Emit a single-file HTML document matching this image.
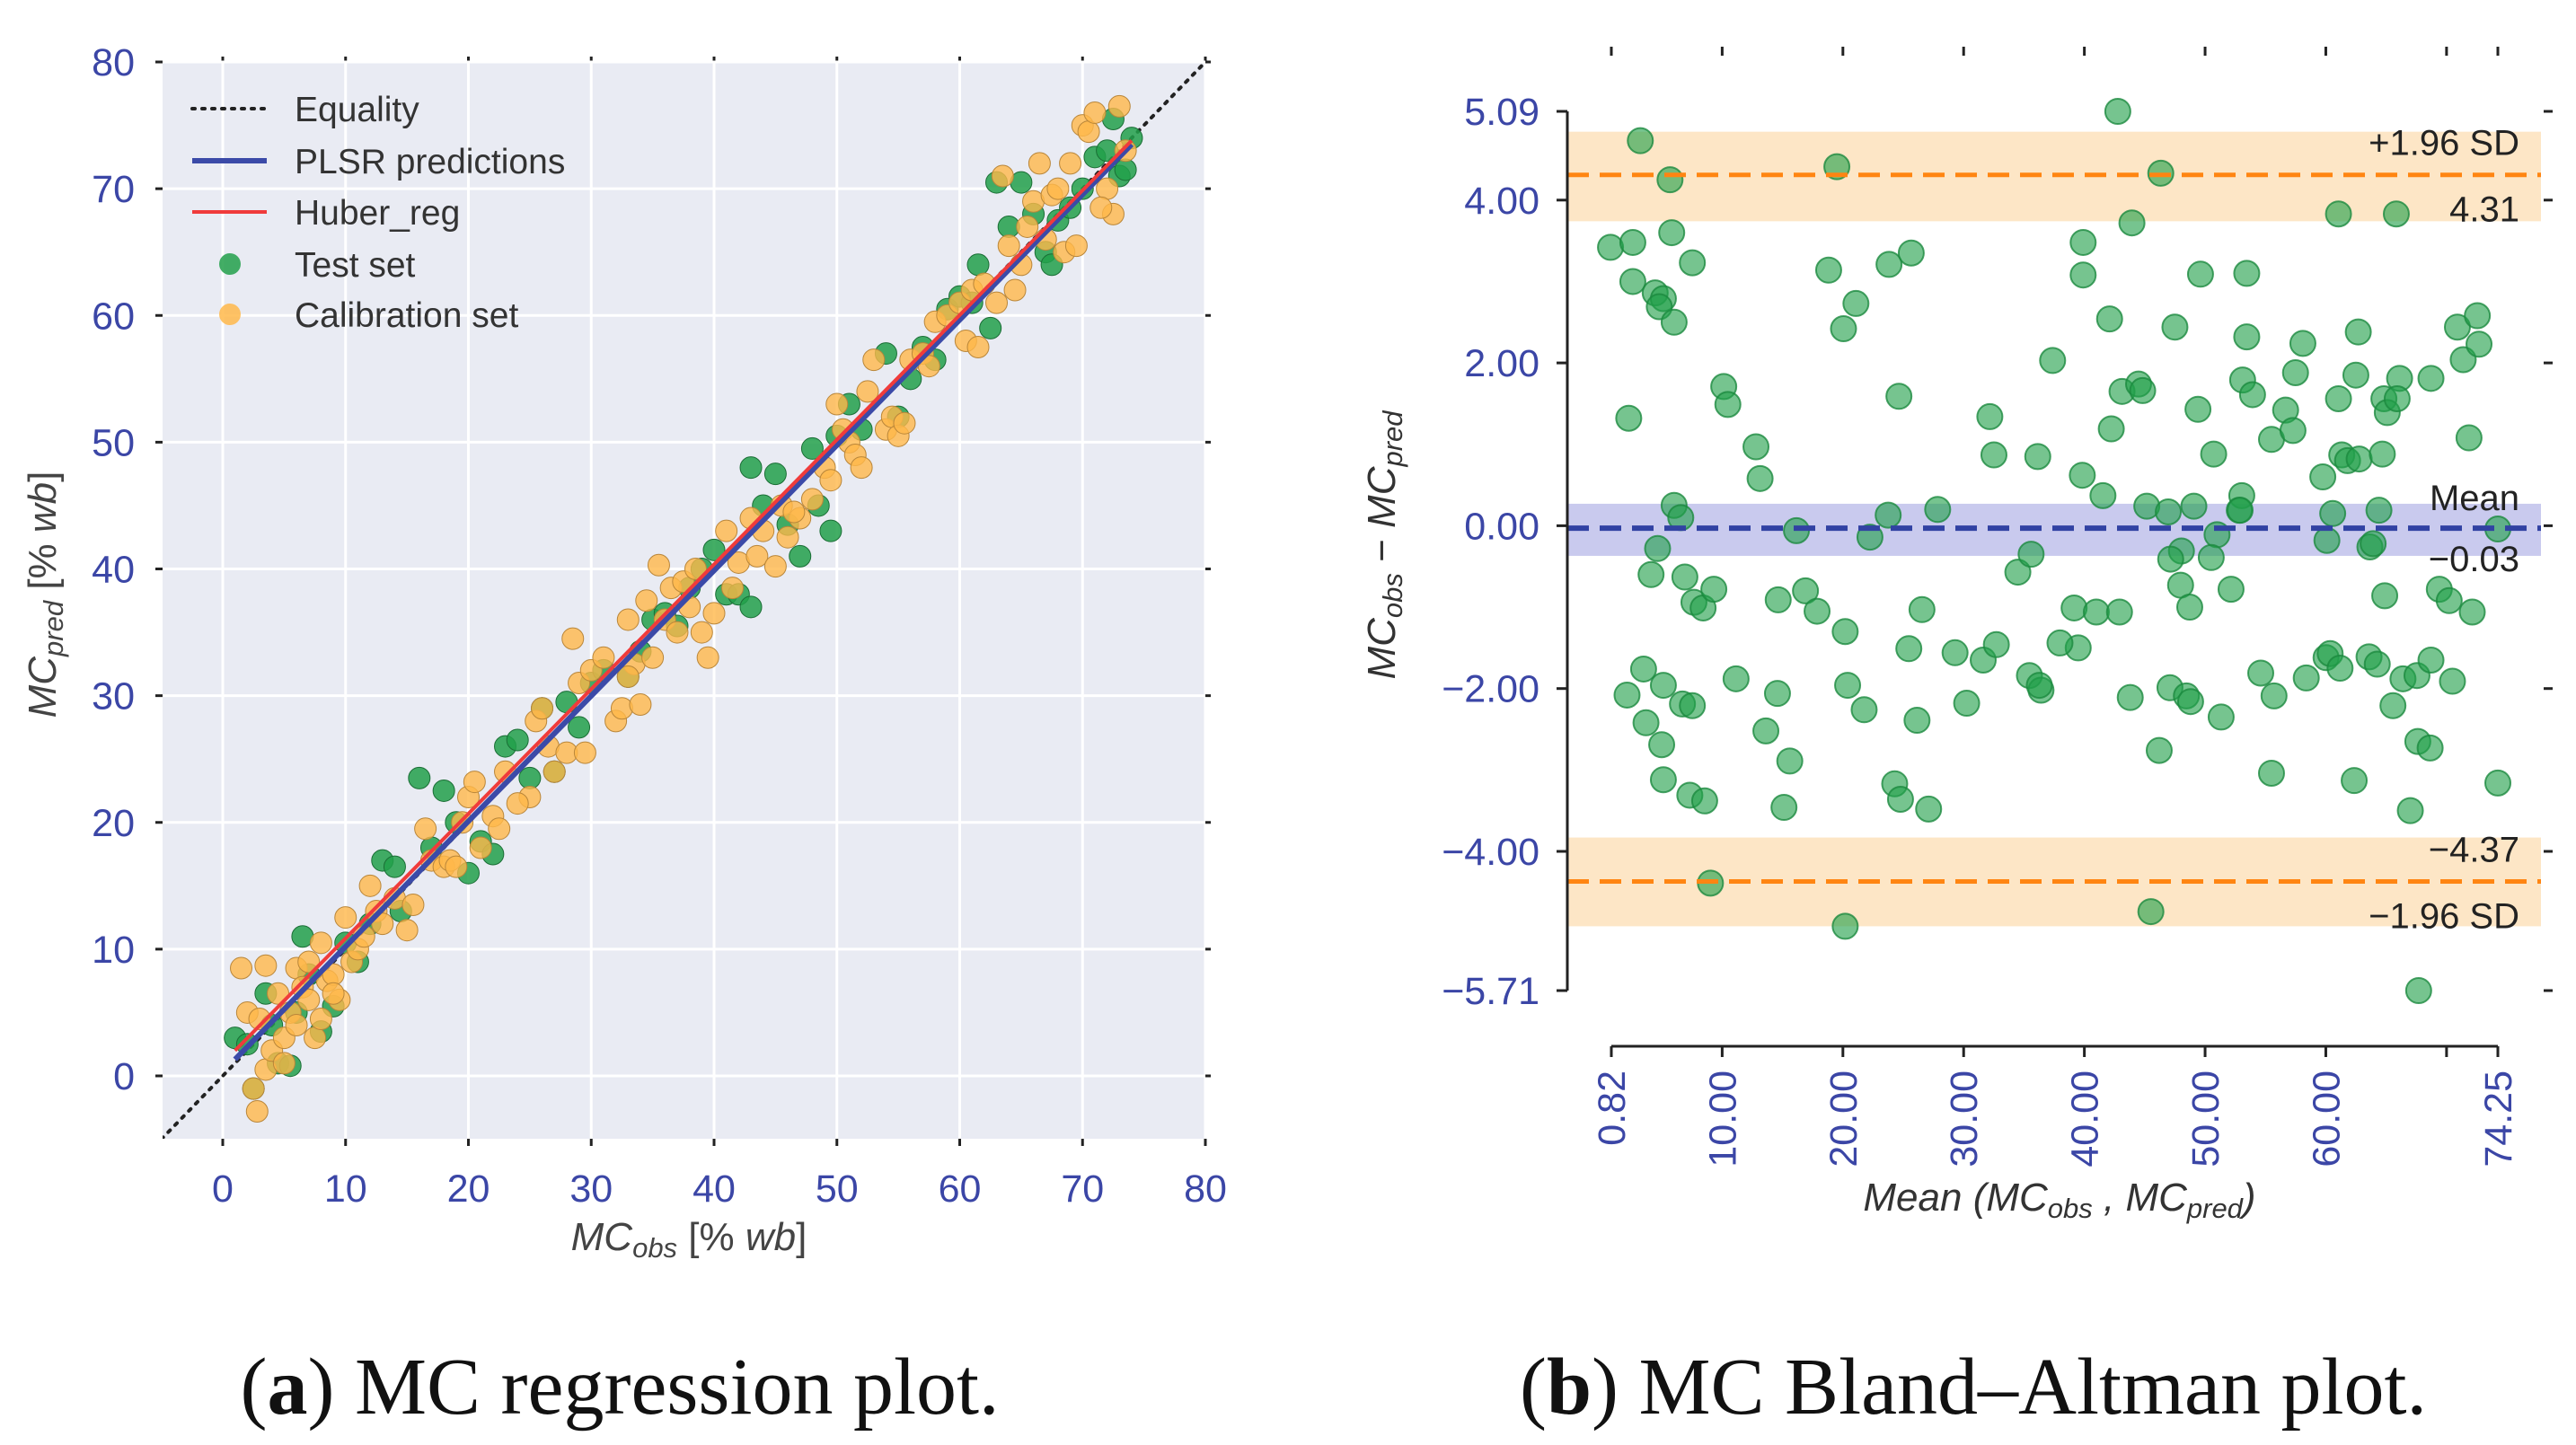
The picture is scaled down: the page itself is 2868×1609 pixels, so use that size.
<!DOCTYPE html>
<html><head><meta charset="utf-8"><style>
html,body{margin:0;padding:0;background:#fff;}
svg{display:block;}
text{font-family:"Liberation Sans",sans-serif;}
</style></head><body>
<svg id="fig" width="2868" height="1609" viewBox="0 0 2868 1609" xmlns="http://www.w3.org/2000/svg">
<g id="regPlot"></g>
<g id="baPlot"></g>
<text x="690" y="1574" text-anchor="middle" font-size="90" style="font-family:'Liberation Serif',serif" fill="#111">(<tspan font-weight="bold">a</tspan>) MC regression plot.</text>
<text x="2197" y="1574" text-anchor="middle" font-size="90" style="font-family:'Liberation Serif',serif" fill="#111">(<tspan font-weight="bold">b</tspan>) MC Bland–Altman plot.</text>
</svg>
<script>
// ---- Regression plot data ----
const regXTicks=[0,10,20,30,40,50,60,70,80];
const regYTicks=[0,10,20,30,40,50,60,70,80];
const calObs=[1.5,3.5,2,3,2.5,2.8,3.5,4,5,5.5,6,6.5,7,7,7.5,8,8.5,9,9.5,10,10.5,11,11.5,12,12.5,13,14,15,15.5,16.5,17,18,18.5,19,19.5,20,20.5,21,22,22.5,23,25,25.5,26,26.5,27,28,28.5,29,29.5,30,31,32,32.5,33,33.5,34,34.5,35,35.5,36,36.5,37,37.5,38,38.5,39,39.5,40,41,41.5,42,43,43.5,44,45,45.5,46,47,48,49,49.5,50,50.5,51,51.5,52,52.5,53,54,54.5,55,55.5,56,57,58,59,60,60.5,61,61.5,62,63,63.5,64,64.5,65,65.5,66,66.5,67,67.5,68,68.5,69,69.5,70,70.5,71,72,72.5,73,73.5,71.5,5,6,8,9,4.5,33,24,57.5,46.5];
const calPred=[8.5,8.7,5,4.5,-1,-2.8,0.5,2,3,5,8.5,7,9,6,3,10.5,7.5,8,6,12.5,9,10,11,15,13,12,14,11.5,13.5,19.5,17,16.5,17,16.5,20,22,23.2,18,20.5,19.5,24,22,28,29,26,24,25.5,34.5,31,25.5,32,33,28,29,36,32.5,29.3,37.5,33,40.3,36,38.5,35,39,37,40,35,33,36.5,43,38.5,40.5,44,41,43,40.2,45,42.5,44,45.5,48,47,53,51,50,49,48,54,56.5,51,52,50.5,51.5,56.5,57,59.5,60,61,58,62,57.5,62.5,61,71,65.5,62,64,67,69,72,66,69.5,70,65,72,65.5,75,74.5,76,70,68,76.5,73,68.5,1,4,4.5,6.5,6.5,31.5,21.5,56,44.5];
const testObs=[1,2,2.5,3.5,4,4.5,5.5,6,6.5,7,8,9,10,11,12,13,14,14.5,16,17,18,19,20,21,22,23,24,25,26,27,28,29,30,31,33,34,35,36,37,38,39,40,41,42,43,43,44,45,46,47,48,48.5,49.5,50,51,52,54,55,56,57,58,59,60,61,61.5,62.5,63,64,65,66,67,67.5,68,69,70,71,72,72.5,73,73.5,74];
const testPred=[3,2.5,-1,6.5,4,1,0.8,5,11,8,3.5,5.5,10.5,9,12,17,16.5,13,23.5,18,22.5,20,16,18.5,17.5,26,26.5,23.5,29,24,29.5,27.5,31,32,31.5,33.5,36,36.5,35.5,38.5,40,41.5,38,38,37,48,45,47.5,43.5,41,49.5,45,43,50.5,53,51,57,52,55,57.5,56.5,60.5,61.5,61,64,59,70.5,67,70.5,68,65,64,67.5,68.5,70,72.5,73,75.5,71,71.5,74];
const plsrLine=[[1,1.3],[74,73.5]];
const huberLine=[[1,2.0],[74,73.8]];
const equalityLine=[[-5,-5],[80,80]];

// ---- Bland-Altman data ----
const baMean=[3.22,5.68,19.5,42.77,46.33,43.94,61.05,65.84,0.75,2.6,2.6,5.82,4.45,5.13,4.79,6.02,7.53,2.26,18.82,20.05,21.08,23.82,25.66,24.64,10.13,10.47,12.8,13.14,39.9,39.9,42.09,37.37,32.17,32.51,36.14,39.83,41.54,42.23,43.12,44.49,44.83,47.5,49.62,53.45,53.45,49.41,50.71,53.11,53.93,53.04,52.83,55.5,56.67,57.28,57.49,58.1,59.75,61.05,61.32,61.8,62.76,62.69,62.49,64.68,64.81,65.09,66.11,65.91,68.71,70.9,72.55,71.38,72.69,71.86,6.02,6.57,4.65,4.11,6.91,7.66,8.42,9.31,16.15,14.64,16.9,17.86,20.19,22.24,23.75,27.85,26.55,25.46,29.29,31.62,32.71,34.49,35.59,39.15,40.99,42.91,39.49,37.98,45.17,46.95,49.07,50.99,50.51,48.04,47.15,47.97,48.73,52.15,52.9,60.09,60.57,63.65,63.92,64.4,64.88,69.4,70.22,72.13,74.25,3.49,2.12,5.13,6.71,7.53,3.69,4.99,5.13,7.32,8.55,11.15,13.62,14.58,15.6,15.12,20.39,21.76,26.14,24.29,24.77,27.1,30.25,35.45,36.41,36.27,43.8,47.09,48.45,48.8,51.33,46.2,54.61,55.71,55.5,58.38,60.02,60.36,61.18,62.35,63.58,64.26,65.56,66.39,67.55,68.71,70.49,67.62,68.64,67.0,74.25,9.03,20.19,45.51,67.69];
const baDiff=[4.73,4.25,4.41,5.09,4.33,3.72,3.83,3.83,3.42,3.48,3.0,3.6,2.86,2.79,2.69,2.5,3.23,1.32,3.14,2.42,2.73,3.21,3.35,1.59,1.71,1.49,0.97,0.58,3.48,3.08,2.54,2.03,1.34,0.87,0.85,0.62,0.37,1.19,1.65,1.74,1.66,2.44,3.09,3.10,2.32,1.43,0.88,1.79,1.61,0.37,0.19,1.06,1.42,1.17,1.88,2.24,0.6,1.56,0.87,0.80,0.82,2.38,1.85,0.88,1.56,1.39,1.81,1.56,1.81,2.44,2.58,2.04,2.23,1.08,0.25,0.10,-0.28,-0.6,-0.63,-0.94,-1.01,-0.78,-0.06,-0.91,-0.80,-1.05,-1.30,-0.14,0.13,0.20,-1.03,-1.51,-1.56,-1.65,-1.46,-0.57,-0.35,-1.01,-1.06,-1.06,-1.50,-1.44,0.24,0.17,0.24,-0.11,-0.39,-0.31,-0.41,-0.73,-1.0,-0.78,0.19,-0.18,0.15,-0.26,-0.22,0.19,-0.86,-0.78,-0.92,-1.06,-0.04,-1.76,-2.08,-1.96,-2.19,-2.21,-2.42,-2.69,-3.12,-3.31,-3.38,-1.88,-2.52,-2.06,-2.89,-3.46,-1.96,-2.26,-2.39,-3.17,-3.36,-3.48,-2.18,-1.84,-2.02,-1.96,-2.11,-1.99,-2.09,-2.16,-2.35,-2.76,-1.81,-2.09,-3.04,-1.87,-1.62,-1.57,-1.75,-3.13,-1.61,-1.70,-2.21,-1.88,-1.84,-1.65,-1.91,-2.65,-2.73,-3.50,-3.16,-4.39,-4.92,-4.74,-5.71];
const baXTicks=[0.82,10,20,30,40,50,60,74.25];
const baXTickLabels=["0.82","10.00","20.00","30.00","40.00","50.00","60.00","74.25"];
const baXExtraTicks=[70];
const baYTicks=[5.09,4.00,2.00,0.00,-2.00,-4.00,-5.71];
const baYTickLabels=["5.09","4.00","2.00","0.00","\u22122.00","\u22124.00","\u22125.71"];
const baMeanDiff=-0.03, baUpper=4.31, baLower=-4.37;
const baUpperBand=[3.74,4.84], baLowerBand=[-4.92,-3.83], baMeanBand=[-0.37,0.27];

const NS="http://www.w3.org/2000/svg";
function mk(parent,tag,attrs,name,txt){
  const e=document.createElementNS(NS,tag);
  for(const k in attrs)e.setAttribute(k,attrs[k]);
  
  
  if(txt!==undefined)e.textContent=txt;
  parent.appendChild(e);return e;
}
const TICK="#3b46a6";

// ===== Regression plot =====
(function(){
  const g=document.getElementById('regPlot');
  const L=181,R=1342,T=69,B=1268;
  const xs=v=>248+(v-0)*(1342-248)/80;
  const ys=v=>1198-(v-0)*(1198-69)/80;
  mk(g,'rect',{x:L,y:T,width:R-L,height:B-T,fill:'#e9ebf3'},'plot-background');
  regXTicks.forEach(v=>{
    mk(g,'line',{x1:xs(v),x2:xs(v),y1:T,y2:B,stroke:'#fff','stroke-width':3},'x-gridline');
    mk(g,'line',{x1:xs(v),x2:xs(v),y1:B,y2:B+8,stroke:'#222','stroke-width':3},'x-tick');
    mk(g,'line',{x1:xs(v),x2:xs(v),y1:T-6,y2:T,stroke:'#222','stroke-width':3},'x-tick-top');
    mk(g,'text',{x:xs(v),y:1338,'text-anchor':'middle','font-size':43,fill:TICK},'x-tick-label',String(v));
  });
  regYTicks.forEach(v=>{
    mk(g,'line',{x1:L,x2:R,y1:ys(v),y2:ys(v),stroke:'#fff','stroke-width':3},'y-gridline');
    mk(g,'line',{x1:L-8,x2:L,y1:ys(v),y2:ys(v),stroke:'#222','stroke-width':3},'y-tick');
    mk(g,'line',{x1:R,x2:R+6,y1:ys(v),y2:ys(v),stroke:'#222','stroke-width':3},'y-tick-right');
    mk(g,'text',{x:150,y:ys(v)+15,'text-anchor':'end','font-size':43,fill:TICK},'y-tick-label',String(v));
  });
  const c=document.createElementNS(NS,'clipPath');c.setAttribute('id','regclip');
  const cr=document.createElementNS(NS,'rect');cr.setAttribute('x',L);cr.setAttribute('y',T);cr.setAttribute('width',R-L);cr.setAttribute('height',B-T);
  c.appendChild(cr);g.appendChild(c);
  const pg=mk(g,'g',{'clip-path':'url(#regclip)'},'data-layer');
  mk(pg,'line',{x1:xs(equalityLine[0][0]),y1:ys(equalityLine[0][1]),x2:xs(equalityLine[1][0]),y2:ys(equalityLine[1][1]),stroke:'#222','stroke-width':4,'stroke-dasharray':'3 8','stroke-linecap':'round'},'equality-line');
  testObs.forEach((v,i)=>{
    mk(pg,'circle',{cx:xs(v),cy:ys(testPred[i]),r:12,fill:'#22a04a','fill-opacity':0.85,stroke:'#1a6e35','stroke-width':1},'test-point');
  });
  calObs.forEach((v,i)=>{
    mk(pg,'circle',{cx:xs(v),cy:ys(calPred[i]),r:12,fill:'#ffb84a','fill-opacity':0.8,stroke:'#b9863a','stroke-width':1},'calibration-point');
  });
  mk(pg,'line',{x1:xs(plsrLine[0][0]),y1:ys(plsrLine[0][1]),x2:xs(plsrLine[1][0]),y2:ys(plsrLine[1][1]),stroke:'#3b4aa8','stroke-width':6},'plsr-line');
  mk(pg,'line',{x1:xs(huberLine[0][0]),y1:ys(huberLine[0][1]),x2:xs(huberLine[1][0]),y2:ys(huberLine[1][1]),stroke:'#f03b3b','stroke-width':4},'huber-line');
  const lg=mk(g,'g',{},'legend');
  const rows=[121,179,236,294,350];
  const labels=['Equality','PLSR predictions','Huber_reg','Test set','Calibration set'];
  mk(lg,'line',{x1:214,x2:297,y1:rows[0],y2:rows[0],stroke:'#222','stroke-width':4,'stroke-dasharray':'3 8','stroke-linecap':'round'},'legend-equality-swatch');
  mk(lg,'line',{x1:214,x2:297,y1:rows[1],y2:rows[1],stroke:'#3b4aa8','stroke-width':6},'legend-plsr-swatch');
  mk(lg,'line',{x1:214,x2:297,y1:rows[2],y2:rows[2],stroke:'#f03b3b','stroke-width':4},'legend-huber-swatch');
  mk(lg,'circle',{cx:256,cy:rows[3],r:12,fill:'#22a04a','fill-opacity':0.85},'legend-test-swatch');
  mk(lg,'circle',{cx:256,cy:rows[4],r:12,fill:'#ffb84a','fill-opacity':0.85},'legend-calibration-swatch');
  labels.forEach((t,i)=>mk(lg,'text',{x:328,y:rows[i]+14,'font-size':39,fill:'#333'},'legend-entry',t));
  const xt=mk(g,'text',{x:767,y:1392,'text-anchor':'middle','font-size':44,fill:'#444'},'x-axis-title');
  xt.innerHTML='<tspan font-style="italic">MC</tspan><tspan font-style="italic" font-size="31" dy="8">obs</tspan><tspan dy="-8"> [% </tspan><tspan font-style="italic">wb</tspan>]';
  const yt=mk(g,'text',{x:0,y:0,'text-anchor':'middle','font-size':44,fill:'#444',transform:'translate(62,662) rotate(-90)'},'y-axis-title');
  yt.innerHTML='<tspan font-style="italic">MC</tspan><tspan font-style="italic" font-size="31" dy="8">pred</tspan><tspan dy="-8"> [% </tspan><tspan font-style="italic">wb</tspan>]';
})();

// ===== Bland-Altman plot =====
(function(){
  const g=document.getElementById('baPlot');
  const L=1745,R=2829;
  const xs=v=>1794+(v-0.82)*(2781-1794)/(74.25-0.82);
  const ys=v=>124+(5.09-v)*(1103-124)/(5.09+5.71);
  mk(g,'rect',{x:L,y:ys(baUpperBand[1]),width:R-L,height:ys(baUpperBand[0])-ys(baUpperBand[1]),fill:'#fde6c6'},'upper-limit-band');
  mk(g,'rect',{x:L,y:ys(baLowerBand[1]),width:R-L,height:ys(baLowerBand[0])-ys(baLowerBand[1]),fill:'#fde6c6'},'lower-limit-band');
  mk(g,'rect',{x:L,y:ys(baMeanBand[1]),width:R-L,height:ys(baMeanBand[0])-ys(baMeanBand[1]),fill:'#c9caee'},'mean-band');
  baMean.forEach((v,i)=>{
    mk(g,'circle',{cx:xs(v),cy:ys(baDiff[i]),r:14,fill:'#22a04a','fill-opacity':0.62,stroke:'#1b8a3e','stroke-opacity':0.8,'stroke-width':2},'ba-point');
  });
  mk(g,'line',{x1:L,x2:R,y1:ys(baUpper),y2:ys(baUpper),stroke:'#ff8512','stroke-width':5,'stroke-dasharray':'24 12'},'upper-limit-line');
  mk(g,'line',{x1:L,x2:R,y1:ys(baLower),y2:ys(baLower),stroke:'#ff8512','stroke-width':5,'stroke-dasharray':'24 12'},'lower-limit-line');
  mk(g,'line',{x1:L,x2:R,y1:ys(baMeanDiff),y2:ys(baMeanDiff),stroke:'#3142a3','stroke-width':6,'stroke-dasharray':'24 12'},'mean-line');
  const lab=(t,y,n)=>mk(g,'text',{x:2805,y:y,'text-anchor':'end','font-size':40,fill:'#222'},n,t);
  lab('+1.96 SD',ys(baUpper)-22,'upper-sd-label');
  lab(baUpper.toFixed(2),ys(baUpper)+52,'upper-value-label');
  lab('Mean',ys(baMeanDiff)-20,'mean-label');
  lab('\u2212'+Math.abs(baMeanDiff).toFixed(2),ys(baMeanDiff)+48,'mean-value-label');
  lab('\u2212'+Math.abs(baLower).toFixed(2),ys(baLower)-22,'lower-value-label');
  lab('\u22121.96 SD',ys(baLower)+52,'lower-sd-label');
  mk(g,'line',{x1:L,x2:L,y1:ys(5.09),y2:ys(-5.71),stroke:'#222','stroke-width':3},'y-axis-spine');
  mk(g,'line',{x1:xs(0.82),x2:xs(74.25),y1:1165,y2:1165,stroke:'#222','stroke-width':3},'x-axis-spine');
  baYTicks.forEach((v,i)=>{
    mk(g,'line',{x1:L-12,x2:L,y1:ys(v),y2:ys(v),stroke:'#222','stroke-width':3},'y-tick');
    mk(g,'line',{x1:2832,x2:2842,y1:ys(v),y2:ys(v),stroke:'#222','stroke-width':3},'y-tick-right');
    mk(g,'text',{x:1714,y:ys(v)+15,'text-anchor':'end','font-size':43,fill:TICK},'y-tick-label',baYTickLabels[i]);
  });
  baXTicks.concat(baXExtraTicks).forEach(v=>{
    mk(g,'line',{x1:xs(v),x2:xs(v),y1:1165,y2:1177,stroke:'#222','stroke-width':3},'x-tick');
    mk(g,'line',{x1:xs(v),x2:xs(v),y1:52,y2:62,stroke:'#222','stroke-width':3},'x-tick-top');
  });
  baXTicks.forEach((v,i)=>{
    mk(g,'text',{x:0,y:0,'text-anchor':'end','font-size':43,fill:TICK,transform:`translate(${xs(v)+15},1192) rotate(-90)`},'x-tick-label',baXTickLabels[i]);
  });
  const xt=mk(g,'text',{x:2293,y:1348,'text-anchor':'middle','font-size':44,fill:'#333'},'x-axis-title');
  xt.innerHTML='<tspan font-style="italic">Mean (MC</tspan><tspan font-style="italic" font-size="31" dy="8">obs</tspan><tspan font-style="italic" dy="-8"> , MC</tspan><tspan font-style="italic" font-size="31" dy="8">pred</tspan><tspan font-style="italic" dy="-8">)</tspan>';
  const yt=mk(g,'text',{x:0,y:0,'text-anchor':'middle','font-size':44,fill:'#333',transform:'translate(1553,607) rotate(-90)'},'y-axis-title');
  yt.innerHTML='<tspan font-style="italic">MC</tspan><tspan font-style="italic" font-size="31" dy="8">obs</tspan><tspan dy="-8">  \u2212  </tspan><tspan font-style="italic">MC</tspan><tspan font-style="italic" font-size="31" dy="8">pred</tspan>';
})();
</script>
</body></html>
